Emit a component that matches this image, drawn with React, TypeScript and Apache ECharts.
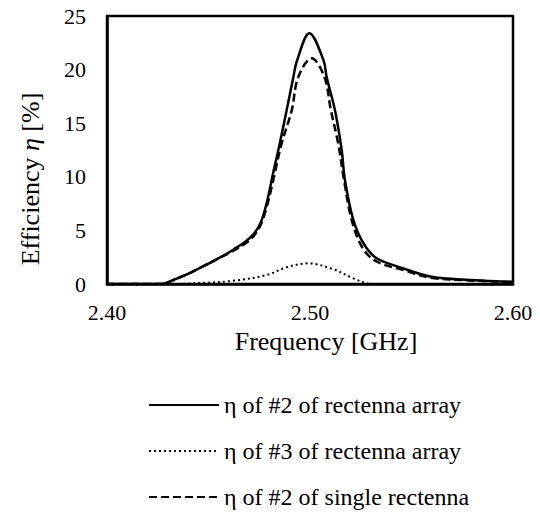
import React, { useEffect, useRef } from "react";
import * as echarts from "echarts";

const xTicks = [2.4, 2.5, 2.6];
const yTicks = [0, 5, 10, 15, 20, 25];

const freqArray2 = [2.4, 2.427, 2.433, 2.4393, 2.4458, 2.454, 2.4622, 2.4704, 2.4754, 2.4787, 2.4819, 2.4844, 2.4885, 2.4918, 2.4937, 2.4997, 2.5066, 2.5082, 2.5123, 2.5156, 2.5172, 2.5213, 2.5263, 2.5328, 2.546, 2.5591, 2.5788, 2.5985, 2.6];
const effArray2 = [0, 0, 0.4, 0.9, 1.5, 2.3, 3.2, 4.3, 5.6, 7.6, 10.4, 12.5, 16.2, 19.3, 20.9, 23.4, 20.9, 19.3, 16.2, 12.5, 9.7, 6.0, 3.8, 2.4, 1.46, 0.7, 0.37, 0.21, 0.2];

const freqArray3 = [2.435, 2.4424, 2.4622, 2.4787, 2.4885, 2.499, 2.5115, 2.5213, 2.5279, 2.53];
const effArray3 = [0, 0.05, 0.3, 0.84, 1.56, 1.93, 1.37, 0.53, 0.05, 0];

const freqSingle = [2.4, 2.427, 2.433, 2.4393, 2.4458, 2.454, 2.4622, 2.4704, 2.4754, 2.4787, 2.4819, 2.486, 2.491, 2.4942, 2.5008, 2.5071, 2.5103, 2.5139, 2.5165, 2.5205, 2.5258, 2.5328, 2.546, 2.5591, 2.5788, 2.6];
const effSingle = [0, 0, 0.4, 0.9, 1.5, 2.3, 3.1, 4.1, 5.4, 7.2, 9.7, 13.1, 16.2, 19.3, 21.05, 19.3, 16.2, 13.1, 10.0, 6.0, 3.4, 2.1, 1.3, 0.6, 0.33, 0.18];

const seriesNames = [
  "η of #2 of rectenna array",
  "η of #3 of rectenna array",
  "η of #2 of single rectenna",
];

const FONT = "Liberation Serif";

const pairs = (xs: number[], ys: number[]) => xs.map((x, i) => [x, ys[i]]);

export default function App() {
  const ref = useRef<HTMLDivElement>(null);
  useEffect(() => {
    if (!ref.current) return;
    const chart = echarts.init(ref.current, null, { renderer: "svg" });
    chart.setOption({
      animation: false,
      backgroundColor: "#fff",
      textStyle: { fontFamily: FONT },
      grid: {
        left: 107,
        right: 27,
        top: 16,
        bottom: 229,
        show: true,
        borderColor: "#000",
        borderWidth: 2.5,
      },
      legend: {
        orient: "vertical",
        left: 148,
        top: 393,
        height: 200,
        padding: 0,
        itemWidth: 70,
        itemHeight: 14,
        itemGap: 22,
        itemStyle: { opacity: 0, borderWidth: 0 },
        data: seriesNames,
        textStyle: { fontFamily: FONT, fontSize: 24, color: "#000" },
      },
      xAxis: {
        type: "value",
        min: xTicks[0],
        max: xTicks[xTicks.length - 1],
        interval: 0.1,
        name: "Frequency [GHz]",
        nameLocation: "middle",
        nameGap: 44,
        nameTextStyle: { fontFamily: FONT, fontSize: 26, color: "#000", padding: [0, 0, 0, 32] },
        axisLine: { show: true, lineStyle: { color: "#000", width: 2.5 } },
        axisTick: { show: false },
        splitLine: { show: false },
        axisLabel: {
          fontFamily: FONT,
          fontSize: 22,
          color: "#000",
          margin: 17,
          formatter: (v: number) => v.toFixed(2),
        },
      },
      yAxis: {
        type: "value",
        min: yTicks[0],
        max: yTicks[yTicks.length - 1],
        interval: 5,
        name: "Efficiency {i|η} [%]",
        nameLocation: "middle",
        nameGap: 64,
        nameTextStyle: {
          fontFamily: FONT,
          fontSize: 26,
          color: "#000",
          padding: [0, 58, 0, 0],
          rich: { i: { fontFamily: FONT, fontSize: 26, fontStyle: "italic", color: "#000" } },
        },
        axisLine: { show: true, lineStyle: { color: "#000", width: 2.5 } },
        axisTick: { show: false },
        splitLine: { show: false },
        axisLabel: { fontFamily: FONT, fontSize: 22, color: "#000", margin: 21 },
      },
      series: [
        {
          name: seriesNames[0],
          type: "line",
          smooth: 0.35,
          symbol: "none",
          data: pairs(freqArray2, effArray2),
          lineStyle: { color: "#000", width: 2.5, type: "solid" },
          z: 3,
        },
        {
          name: seriesNames[1],
          type: "line",
          smooth: 0.35,
          symbol: "none",
          data: pairs(freqArray3, effArray3),
          lineStyle: { color: "#000", width: 2, type: [2, 3] },
          z: 2,
        },
        {
          name: seriesNames[2],
          type: "line",
          smooth: 0.35,
          symbol: "none",
          data: pairs(freqSingle, effSingle),
          lineStyle: { color: "#000", width: 2.5, type: [8, 4] },
          z: 2,
        },
      ],
    });
    return () => chart.dispose();
  }, []);
  return <div ref={ref} style={{ width: 540, height: 513, position: "absolute", left: 0, top: 0 }} />;
}
